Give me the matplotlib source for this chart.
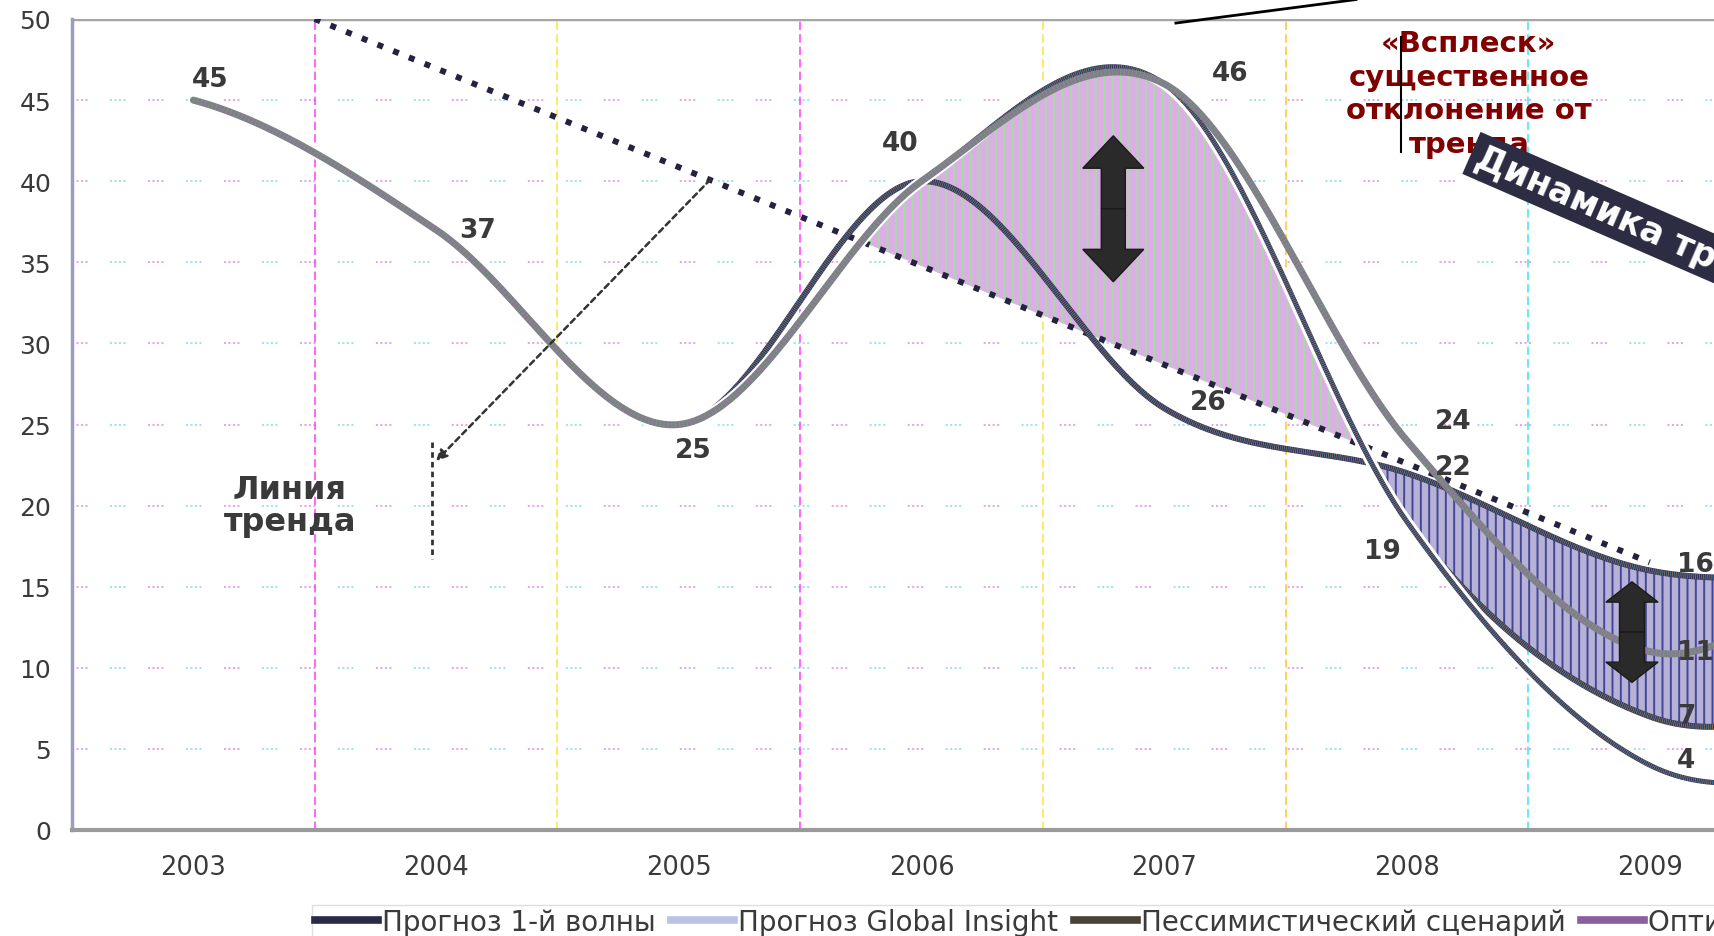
import numpy as np
import matplotlib
matplotlib.use("Agg")
import matplotlib.pyplot as plt
from matplotlib.patches import FancyArrow
from matplotlib.lines import Line2D

plt.rcParams["font.family"] = ["DejaVu Sans"]
plt.rcParams["lines.scale_dashes"] = False
plt.rcParams["hatch.linewidth"] = 1.4

# ---- data -------------------------------------------------------------
years = ["2003", "2004", "2005", "2006", "2007", "2008", "2009", "2010"]
wave1 = [45, 37, 25, 40, 26, 22, 16, 16]            # Прогноз 1-й волны
global_insight = [45, 37, 25, 40, 46, 19, 4, 4]     # Прогноз Global Insight
pessimistic = [45, 37, 25, 40, 46, 19, 7, 8]        # Пессимистический сценарий
optimistic = [45, 37, 25, 40, 46, 24, 11, 17]       # Оптимистический сценарий
trend_x = [0.5, 6.0]
trend_y = [50.0, 16.5]
series_names = ["Прогноз 1-й волны", "Прогноз Global Insight",
                "Пессимистический сценарий", "Оптимистический сценарий"]


def smooth(vals, n=80):
    """Smoothed (Catmull-Rom) curve through the yearly points."""
    y = np.asarray(vals, float)
    k = len(y)
    ext = np.concatenate([[y[0]], y, [y[-1]]])
    xs, ys = [], []
    for i in range(k - 1):
        p0, p1, p2, p3 = ext[i], ext[i + 1], ext[i + 2], ext[i + 3]
        m1, m2 = (p2 - p0) / 2, (p3 - p1) / 2
        t = np.linspace(0, 1, n, endpoint=(i == k - 2))
        h00 = 2 * t**3 - 3 * t**2 + 1
        h10 = t**3 - 2 * t**2 + t
        h01 = -2 * t**3 + 3 * t**2
        h11 = t**3 - t**2
        xs.append(i + t)
        ys.append(h00 * p1 + h10 * m1 + h01 * p2 + h11 * m2)
    return np.concatenate(xs), np.concatenate(ys)


xg, w1 = smooth(wave1)
_, gi = smooth(global_insight)
_, pe = smooth(pessimistic)
_, op = smooth(optimistic)
tr = np.interp(xg, trend_x, trend_y)

# ---- figure -----------------------------------------------------------
fig = plt.figure(figsize=(17.15, 9.37), dpi=100)
ax = fig.add_axes([72 / 1715, 106 / 937, 1643 / 1715, 811 / 937])
ax.set_yticks(range(0, 51, 5))
ax.set_xticks(range(len(years)))
ax.set_xticklabels(years)
ax.set_xlim(-0.5, 6.269)
ax.set_ylim(0, 50)

# grid: dotted horizontal groups in alternating pink / cyan
grp = [1.44, 1.8, 1.44, 1.8, 1.44, 1.8, 1.44]
for yv in range(5, 50, 5):
    ax.axhline(yv, color="#e79ae8", lw=1.3, linestyle=(0, grp + [54.7 - sum(grp)]), zorder=0.5)
    ax.axhline(yv, color="#8fe3ee", lw=1.3, linestyle=(27.35, grp + [54.7 - sum(grp)]), zorder=0.5)
ax.axhline(50, color="#a6a6a6", lw=2.5, zorder=0.6)

# vertical dashed boundaries between years
vcolors = ["#ff3cff", "#ffe23a", "#ff3cff", "#ffe23a", "#ffc62a", "#3fe2f0"]
for i, c in enumerate(vcolors):
    ax.axvline(i + 0.5, color=c, lw=1.1, linestyle=(0, (6, 3)), zorder=0.5)

# shaded deviation areas
upper1 = np.minimum(op, pe)
m1 = (xg >= 2) & (xg <= 5) & (upper1 > tr)
ax.fill_between(xg, tr, upper1, where=m1, interpolate=True,
                facecolor="#dcaee6", edgecolor="#a6dca4", hatch="||", linewidth=0, zorder=1)
m2 = (xg >= 4.5) & (w1 > pe)
ax.fill_between(xg, pe, w1, where=m2, interpolate=True,
                facecolor="#b6b2d6", edgecolor="#45459a", hatch="||", linewidth=0, zorder=1)

# trend line
ax.plot(trend_x, trend_y, color="#23233f", lw=4.3, linestyle=(0, (4.3, 7.9)),
        solid_capstyle="butt", dash_capstyle="butt", zorder=3)


def striped(x, y, base, lw, z, stripes=("#d08a3a", "#3aa6d0")):
    ax.plot(x, y, color=base, lw=lw, zorder=z, solid_capstyle="round")
    ax.plot(x, y, color=stripes[0], lw=lw * 0.9, alpha=0.65, linestyle=(0, (0.7, 2.1)), zorder=z)
    ax.plot(x, y, color=stripes[1], lw=lw * 0.9, alpha=0.65, linestyle=(1.4, (0.7, 2.1)), zorder=z)


striped(xg, w1, "#2e2c55", 4.3, 4)
striped(xg, pe, "#34304e", 4.3, 4.1)
ax.plot(xg, gi, color="white", lw=8, zorder=4.2, solid_capstyle="round")
striped(xg, gi, "#33335c", 3.6, 4.3)
striped(xg, op, "#7e7e86", 5.0, 5, stripes=("#5cb85c", "#b45fc8"))

# data labels
lab_kw = dict(fontsize=19, fontweight="bold", color="#3a3a3a", ha="center", va="center", zorder=7)
labels = [
    (0, optimistic[0], 0.07, 1.3), (1, optimistic[1], 0.17, 0.0),
    (2, optimistic[2], 0.06, -1.55), (3, optimistic[3], -0.09, 2.35),
    (4, optimistic[4], 0.27, 0.7), (4, wave1[4], 0.18, 0.4),
    (5, optimistic[5], 0.19, 1.2), (5, wave1[5], 0.19, 0.4),
    (5, pessimistic[5], -0.10, -1.8), (6, wave1[6], 0.19, 0.4),
    (6, optimistic[6], 0.19, 0.0), (6, pessimistic[6], 0.15, 0.0),
    (6, global_insight[6], 0.15, 0.3),
]
for xi, val, dx, dy in labels:
    ax.text(xi + dx, val + dy, f"{val}", **lab_kw)


# double-headed arrows marking the deviation
def double_arrow(x, y0, y1, w, hw, hl):
    mid = (y0 + y1) / 2
    for d in (y1 - mid, y0 - mid):
        ax.add_patch(FancyArrow(x, mid, 0, d, width=w, head_width=hw, head_length=hl,
                                length_includes_head=True, facecolor="#2a2a2a",
                                edgecolor="#1a1a1a", lw=1, zorder=6))


double_arrow(3.79, 33.8, 42.8, 0.099, 0.251, 2.0)
double_arrow(5.927, 9.1, 15.3, 0.103, 0.215, 1.25)

# trend line callout
ax.annotate("", xy=(1.0, 22.75), xytext=(2.13, 40.1),
            arrowprops=dict(arrowstyle="-|>", linestyle=(0, (4, 3)), lw=1.8,
                            color="#333333", mutation_scale=16, shrinkA=0, shrinkB=0), zorder=6)
ax.plot([0.982, 0.982], [23.9, 16.7], color="#333333", lw=2, linestyle=(0, (4, 3)), zorder=6)
ax.text(0.397, 20.0, "Линия\nтренда", fontsize=23, fontweight="bold", color="#3a3a3a",
        ha="center", va="center", linespacing=1.02, zorder=7)

# spike annotation
ax.text(5.255, 45.4, "«Всплеск»\nсущественное\nотклонение от\nтренда", fontsize=21,
        fontweight="bold", color="#800000", ha="center", va="center", linespacing=1.26, zorder=7)
ax.plot([4.975, 4.975], [48.9, 41.8], color="black", lw=1.5, zorder=8)
ax.plot([4.048, 4.79], [49.75, 51.2], color="black", lw=2, zorder=8, clip_on=False)

# trend dynamics band
ax.text(5.288, 41.6, "Динамика тренда", rotation=-23.5, rotation_mode="anchor",
        ha="left", va="center", fontsize=25, fontweight="bold", color="white",
        bbox=dict(boxstyle="square,pad=0.17", fc="#2c2c42", ec="none"), zorder=7)

# axes styling
ax.tick_params(axis="y", length=0, pad=15, labelsize=18, labelcolor="#3a3a3a")
ax.tick_params(axis="x", length=0, pad=17, labelsize=18.5, labelcolor="#3a3a3a")
for s in ("top", "right"):
    ax.spines[s].set_visible(False)
ax.spines["left"].set_color("#9c9cc0")
ax.spines["left"].set_linewidth(2.5)
ax.spines["bottom"].set_color("#9a9a9a")
ax.spines["bottom"].set_linewidth(3)

# legend
handles = [Line2D([], [], color=c, lw=5.5) for c in ("#2a2a48", "#b9c3e3", "#4a4236", "#8b5e9e")]
fig.legend(handles, series_names, loc="upper left", bbox_to_anchor=(312 / 1715, 1 - 906 / 937),
           ncol=4, fontsize=20, frameon=True, fancybox=False, edgecolor="#d8d8d8",
           handlelength=2.27, handletextpad=0.15, columnspacing=0.55, borderpad=0.1,
           borderaxespad=0, labelcolor="#3a3a3a")

fig.savefig("out.png", dpi=100)
